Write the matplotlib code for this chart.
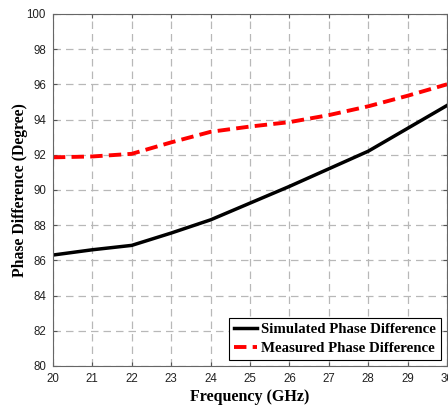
import matplotlib
matplotlib.use("Agg")
import matplotlib.pyplot as plt

# frekvens och fasskillnad
freq = [20, 21, 22, 23, 24, 25, 26, 27, 28, 29, 30]
simulated = [86.3, 86.6, 86.85, 87.55, 88.3, 89.25, 90.2, 91.2, 92.2, 93.5, 94.8]
measured = [91.85, 91.9, 92.05, 92.7, 93.3, 93.6, 93.85, 94.25, 94.75, 95.35, 96.0]

fig = plt.figure(figsize=(4.48, 4.08), dpi=100)
ax = fig.add_axes([0.118, 0.103, 0.88, 0.863])

ax.plot(freq, simulated, color="black", linewidth=2.5, label="Simulated Phase Difference")
ax.plot(freq, measured, color="red", linewidth=2.8, linestyle=(0, (3.2, 1.6)),
        label="Measured Phase Difference")

ax.set_xlim(20, 30)
ax.set_ylim(80, 100)
ax.set_xticks(range(20, 31))
ax.set_yticks(range(80, 101, 2))
ax.tick_params(direction="in", top=True, right=True, labelsize=8.3, length=3, pad=5,
               color="#555555", labelcolor="#222222")
for lab in ax.get_xticklabels() + ax.get_yticklabels():
    lab.set_fontfamily("Liberation Sans")
for s in ax.spines.values():
    s.set_color("#666666")
    s.set_linewidth(0.8)

ax.grid(True, color="#b8b8b8", linestyle=(0, (6, 4)), linewidth=0.9)

ax.set_xlabel("Frequency (GHz)", fontsize=11.5, fontweight="bold", family="Liberation Serif", labelpad=3)
ax.set_ylabel("Phase Difference (Degree)", fontsize=11.3, fontweight="bold", family="Liberation Serif",
              labelpad=-1)

leg = ax.legend(loc="lower right", prop={"family": "Liberation Serif", "weight": "bold", "size": 10.7},
                fancybox=False, edgecolor="black", framealpha=1, handlelength=1.5,
                handletextpad=0.3, borderaxespad=0.4, borderpad=0.35, labelspacing=0.35)
leg.get_frame().set_linewidth(0.8)

fig.savefig("out.png", dpi=100)
